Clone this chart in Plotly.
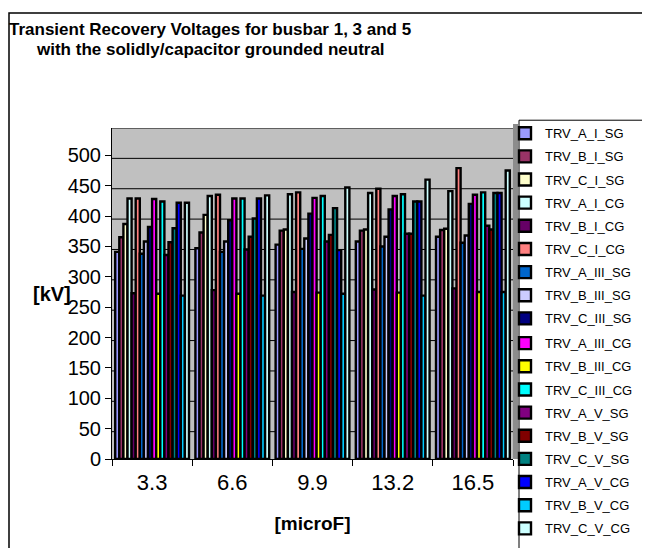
import plotly.graph_objects as go

categories = ["3.3", "6.6", "9.9", "13.2", "16.5"]

series_names = [
    "TRV_A_I_SG", "TRV_B_I_SG", "TRV_C_I_SG",
    "TRV_A_I_CG", "TRV_B_I_CG", "TRV_C_I_CG",
    "TRV_A_III_SG", "TRV_B_III_SG", "TRV_C_III_SG",
    "TRV_A_III_CG", "TRV_B_III_CG", "TRV_C_III_CG",
    "TRV_A_V_SG", "TRV_B_V_SG", "TRV_C_V_SG",
    "TRV_A_V_CG", "TRV_B_V_CG", "TRV_C_V_CG",
]

TRV_A_I_SG = [341, 347, 353, 358, 366]
TRV_B_I_SG = [365, 373, 376, 376, 377]
TRV_C_I_SG = [387, 402, 378, 378, 379]
TRV_A_I_CG = [429, 433, 436, 438, 441]
TRV_B_I_CG = [273, 278, 275, 279, 281]
TRV_C_I_CG = [429, 435, 439, 445, 479]
TRV_A_III_SG = [338, 341, 346, 350, 356]
TRV_B_III_SG = [358, 358, 363, 366, 368]
TRV_C_III_SG = [382, 393, 404, 411, 420]
TRV_A_III_CG = [428, 429, 430, 433, 435]
TRV_B_III_CG = [272, 272, 274, 274, 275]
TRV_C_III_CG = [424, 429, 433, 436, 439]
TRV_A_V_SG = [336, 345, 358, 371, 384]
TRV_B_V_SG = [357, 366, 369, 371, 378]
TRV_C_V_SG = [380, 396, 413, 424, 438]
TRV_A_V_CG = [422, 429, 344, 424, 438]
TRV_B_V_CG = [269, 269, 272, 269, 275]
TRV_C_V_CG = [422, 434, 447, 460, 475]

series_values = [
    TRV_A_I_SG, TRV_B_I_SG, TRV_C_I_SG,
    TRV_A_I_CG, TRV_B_I_CG, TRV_C_I_CG,
    TRV_A_III_SG, TRV_B_III_SG, TRV_C_III_SG,
    TRV_A_III_CG, TRV_B_III_CG, TRV_C_III_CG,
    TRV_A_V_SG, TRV_B_V_SG, TRV_C_V_SG,
    TRV_A_V_CG, TRV_B_V_CG, TRV_C_V_CG,
]

colors = [
    "#9999FF", "#993366", "#FFFFCC",
    "#CCFFFF", "#660066", "#FF8080",
    "#0066CC", "#CCCCFF", "#000080",
    "#FF00FF", "#FFFF00", "#00FFFF",
    "#800080", "#800000", "#008080",
    "#0000FF", "#00CCFF", "#CCFFFF",
]

y_ticks = [0, 50, 100, 150, 200, 250, 300, 350, 400, 450, 500]
WALL_DEPTH = 45  # back-wall offset (in kV units) of the 3-D gridlines

FONT = "Liberation Sans, Arial, sans-serif"

W, H = 650, 548
L, R, T, B = 104, 145, 120, 88
pw, ph = W - L - R, H - T - B

def px(x):
    return (x - L) / pw

def py(y):
    return (H - B - y) / ph

LEG_TOP = 110

fig = go.Figure()
for i, (name, vals, col) in enumerate(zip(series_names, series_values, colors)):
    fig.add_trace(go.Bar(
        name=name, x=categories, y=vals, legendgroup=name,
        legend="legend" if i < 9 else "legend2",
        marker=dict(color=col, line=dict(color="black", width=2.4)),
    ))

legend_common = dict(
    xanchor="left",
    font=dict(size=13, family=FONT), bgcolor="rgba(0,0,0,0)",
    borderwidth=0, tracegroupgap=3.25, traceorder="grouped",
)

shapes = [
    dict(type="line", xref="paper", yref="y", x0=0, x1=1,
         y0=v + WALL_DEPTH, y1=v + WALL_DEPTH,
         line=dict(color="black", width=1), layer="below")
    for v in y_ticks
]
shapes += [
    dict(type="rect", xref="paper", yref="paper",
         x0=px(1), x1=px(700), y0=py(2), y1=py(600),
         line=dict(color="black", width=1.5), fillcolor="rgba(0,0,0,0)",
         layer="below"),
    dict(type="rect", xref="paper", yref="paper",
         x0=px(511), x1=px(700), y0=py(112), y1=py(600),
         line=dict(color="black", width=1), fillcolor="rgba(0,0,0,0)"),
    dict(type="rect", xref="paper", yref="paper",
         x0=1, x1=px(510), y0=0, y1=py(116),
         line=dict(width=0), fillcolor="#8C8C8C", layer="below"),
]

fig.update_layout(
    width=W, height=H,
    margin=dict(l=L, r=R, t=T, b=B, pad=0),
    paper_bgcolor="white",
    plot_bgcolor="#C0C0C0",
    barmode="group", bargap=0.08, bargroupgap=0,
    font=dict(family=FONT, color="black"),
    showlegend=True,
    legend=dict(x=px(497), y=py(LEG_TOP), yanchor="top", **legend_common),
    legend2=dict(x=px(497), y=py(547.5), yanchor="bottom", **legend_common),
    xaxis=dict(
        type="category", showgrid=False, showline=True, linecolor="black",
        linewidth=1, ticks="outside", tickson="boundaries", ticklen=6,
        tickcolor="black", tickfont=dict(size=22), ticklabelstandoff=4,
        title=dict(text="<b>[microF]</b>", font=dict(size=19), standoff=22),
    ),
    yaxis=dict(
        range=[0, 500 + WALL_DEPTH], tickvals=y_ticks, showgrid=False,
        showline=True, linecolor="black", linewidth=1,
        ticks="outside", ticklen=6, tickcolor="black", tickfont=dict(size=20),
        zeroline=False,
    ),
    annotations=[
        dict(text="<b>Transient Recovery Voltages for busbar 1, 3 and 5</b>",
             xref="paper", yref="paper", x=px(202), y=py(19),
             xanchor="center", yanchor="middle", showarrow=False,
             font=dict(size=17, family=FONT)),
        dict(text="<b>with the solidly/capacitor grounded neutral</b>",
             xref="paper", yref="paper", x=px(202), y=py(39),
             xanchor="center", yanchor="middle", showarrow=False,
             font=dict(size=17, family=FONT)),
        dict(text="<b>[kV]</b>", xref="paper", yref="paper",
             x=px(44), y=py(290), xanchor="center", yanchor="middle",
             showarrow=False, font=dict(size=20, family=FONT)),
    ],
    shapes=shapes,
)

fig.write_html("out.html")
